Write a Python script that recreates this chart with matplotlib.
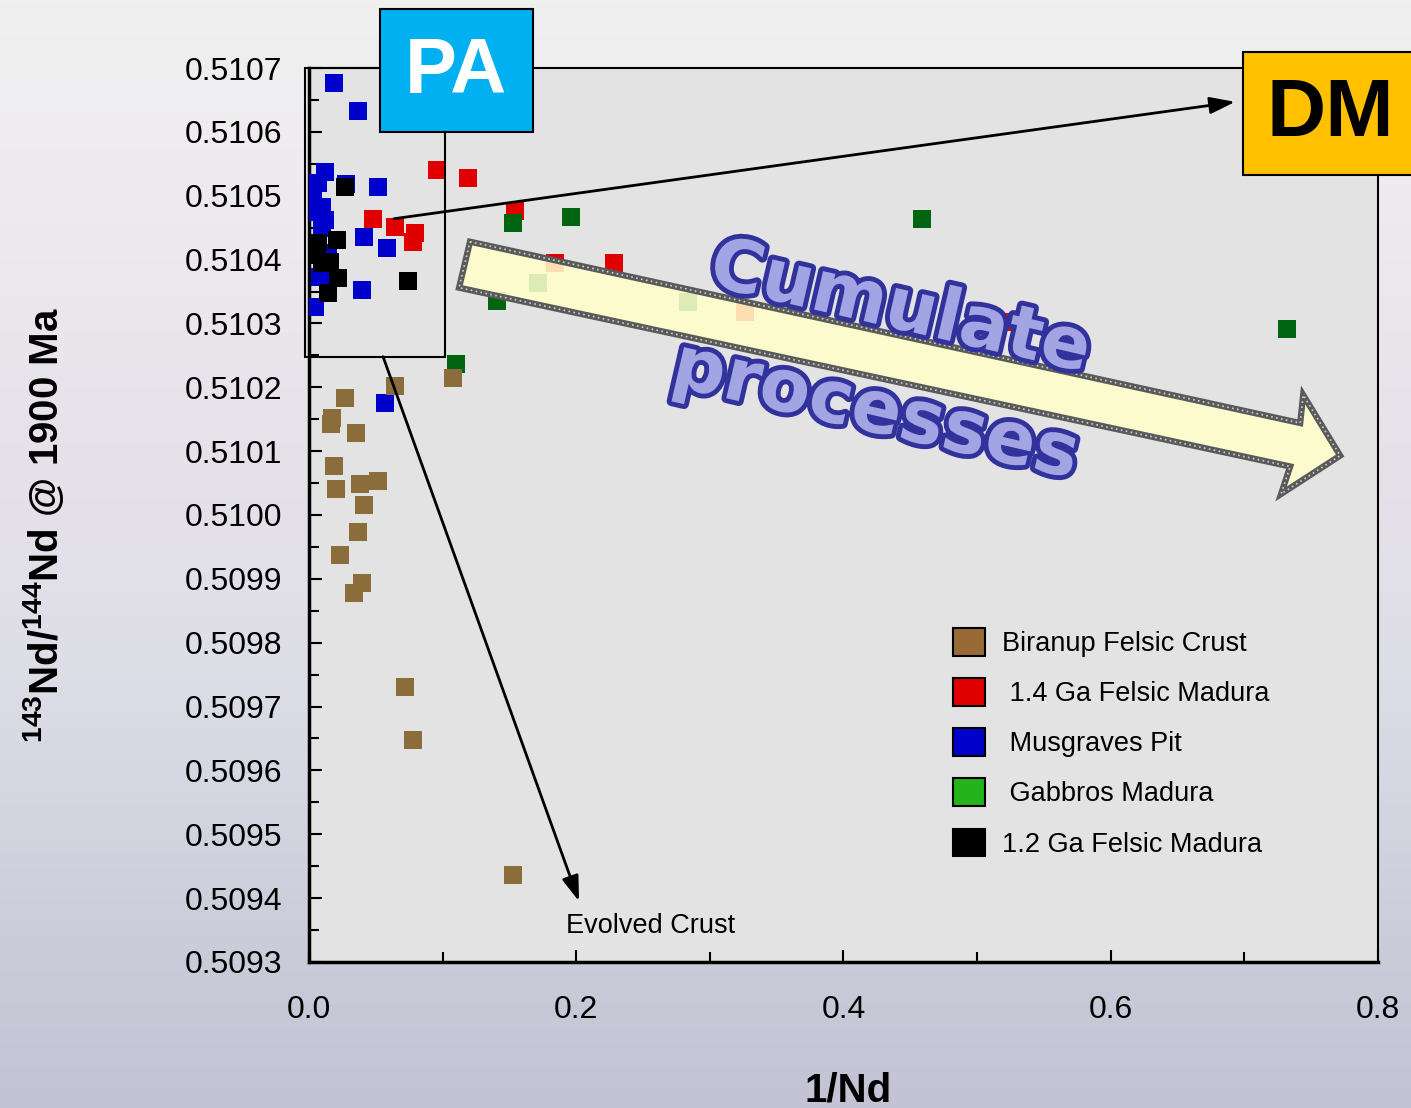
import numpy as np
import matplotlib
matplotlib.use('Agg')
import matplotlib.pyplot as plt
import matplotlib.patheffects as pe
from matplotlib.patches import Rectangle, Polygon, Patch, FancyArrowPatch
from matplotlib.ticker import MultipleLocator, FormatStrFormatter

plt.rcParams['font.family'] = ['Liberation Sans', 'DejaVu Sans']
plt.rcParams['mathtext.default'] = 'regular'

# 1/Nd and 143Nd/144Nd (1900 Ma) for each suite
biranup_x = [0.064, 0.108, 0.027, 0.017, 0.0165, 0.035, 0.019, 0.052, 0.038,
             0.020, 0.041, 0.037, 0.023, 0.040, 0.034, 0.072, 0.078, 0.153]
biranup_y = [0.510202, 0.510215, 0.510184, 0.510152, 0.510143, 0.510129,
             0.510076, 0.510054, 0.510049, 0.510041, 0.510016, 0.509974,
             0.509938, 0.509893, 0.509878, 0.509730, 0.509648, 0.509436]

madura14_x = [0.096, 0.119, 0.048, 0.064, 0.079, 0.078, 0.154, 0.184, 0.228,
              0.326, 0.519]
madura14_y = [0.510540, 0.510528, 0.510464, 0.510451, 0.510442, 0.510428,
              0.510476, 0.510395, 0.510395, 0.510318, 0.510302]

musgraves_x = [0.019, 0.037, 0.012, 0.007, 0.028, 0.052, 0.003, 0.010, 0.0045,
               0.012, 0.010, 0.041, 0.0045, 0.058, 0.014, 0.010, 0.008, 0.040,
               0.0045, 0.057]
musgraves_y = [0.510677, 0.510633, 0.510537, 0.510520, 0.510518, 0.510514,
               0.510497, 0.510482, 0.510475, 0.510462, 0.510450, 0.510436,
               0.510426, 0.510418, 0.510410, 0.510387, 0.510373, 0.510353,
               0.510326, 0.510176]

gabbro_x = [0.196, 0.153, 0.459, 0.141, 0.110, 0.732, 0.457, 0.171, 0.284]
gabbro_y = [0.510467, 0.510457, 0.510464, 0.510335, 0.510237, 0.510292,
            0.510296, 0.510364, 0.510334]

madura12_x = [0.027, 0.021, 0.007, 0.005, 0.010, 0.016, 0.022, 0.014, 0.074]
madura12_y = [0.510514, 0.510431, 0.510426, 0.510407, 0.510395, 0.510396,
              0.510371, 0.510348, 0.510367]

labels = ['Biranup Felsic Crust', ' 1.4 Ga Felsic Madura', ' Musgraves Pit',
          ' Gabbros Madura', '1.2 Ga Felsic Madura']
legend_colors = ['#976a36', '#e00000', '#0000cc', '#22b41a', '#000000']

fig = plt.figure(figsize=(14.11, 11.08), dpi=100)

# soft vertical background shading
bg = fig.add_axes([0, 0, 1, 1], zorder=-5)
stop_pos = [0.0, 0.2, 0.4, 0.6, 0.8, 1.0]
stop_rgb = np.array([[240, 240, 240], [237, 234, 238], [231, 226, 234],
                     [222, 222, 231], [206, 208, 221], [195, 195, 211]]) / 255
t = np.linspace(0, 1, 300)
grad = np.stack([np.interp(t, stop_pos, stop_rgb[:, k]) for k in range(3)], axis=-1)
bg.imshow(grad[:, None, :], aspect='auto', extent=[0, 1, 0, 1])
bg.axis('off')

ax = fig.add_axes([0.219, 0.1318, 0.7576, 0.8068])
ax.set_facecolor('#e3e3e3')
ax.set_xlim(0, 0.8)
ax.set_ylim(0.5093, 0.5107)

ms = 165
ax.scatter(musgraves_x, musgraves_y, s=ms, marker='s', color='#0000cc', lw=0, zorder=3)
ax.scatter(madura14_x, madura14_y, s=ms, marker='s', color='#e00000', lw=0, zorder=3)
ax.scatter(gabbro_x, gabbro_y, s=ms, marker='s', color='#006410', lw=0, zorder=3)
ax.scatter(biranup_x, biranup_y, s=ms, marker='s', color='#8b6c3b', lw=0, zorder=3)
ax.scatter(madura12_x, madura12_y, s=ms, marker='s', color='#000000', lw=0, zorder=3)

# axes styling
for side in ['left', 'bottom']:
    ax.spines[side].set_linewidth(2.5)
for side in ['top', 'right']:
    ax.spines[side].set_linewidth(1.5)
ax.xaxis.set_major_locator(MultipleLocator(0.2))
ax.xaxis.set_minor_locator(MultipleLocator(0.1))
ax.yaxis.set_major_locator(MultipleLocator(0.0001))
ax.yaxis.set_minor_locator(MultipleLocator(0.00005))
ax.xaxis.set_major_formatter(FormatStrFormatter('%.1f'))
ax.yaxis.set_major_formatter(FormatStrFormatter('%.4f'))
ax.tick_params(which='both', direction='in', width=1.5, labelsize=23)
ax.tick_params(which='major', length=9)
ax.tick_params(which='minor', length=7)
ax.tick_params(axis='x', pad=24)
ax.tick_params(axis='y', pad=19)

ax.set_xlabel('1/Nd', fontsize=29, fontweight='bold')
ax.xaxis.set_label_coords(0.504, -0.123)
ax.set_ylabel(r'$^{143}$Nd/$^{144}$Nd @ 1900 Ma', fontsize=29, fontweight='bold')
ax.yaxis.set_label_coords(-0.227, 0.489)

# primitive-mantle field outline
ax.add_patch(Rectangle((-0.003, 0.510248), 0.1048, 0.000452, fill=False,
                       ec='black', lw=1.5, clip_on=False, zorder=4))

# trend arrows
head = '-|>,head_length=0.9,head_width=0.3'
ax.add_patch(FancyArrowPatch((0.0636, 0.510464), (0.6931, 0.510647),
                             arrowstyle=head, mutation_scale=17, lw=2,
                             shrinkA=0, shrinkB=0, color='black', zorder=5))
ax.add_patch(FancyArrowPatch((0.0554, 0.510248), (0.2021, 0.509395),
                             arrowstyle=head, mutation_scale=17, lw=2,
                             shrinkA=0, shrinkB=0, color='black', zorder=5))
ax.text(0.1924, 0.5093556, 'Evolved Crust', fontsize=19.5, va='center', ha='left')

# block arrow for cumulate processes
arrow_xy = [(0.1205, 0.510428), (0.7418, 0.510144), (0.7440, 0.510188),
            (0.7717, 0.510093), (0.7275, 0.510033), (0.7343, 0.510076),
            (0.1123, 0.510356)]
ax.add_patch(Polygon(arrow_xy, closed=True, facecolor=(1, 1, 0.8, 0.88),
                     edgecolor='#5a5a5a', lw=4.5, zorder=4))
ax.add_patch(Polygon(arrow_xy, closed=True, fill=False, edgecolor='#cfcfc8',
                     lw=1.2, ls=(0, (1, 2)), zorder=4))

outline = [pe.withStroke(linewidth=7, foreground='#32329c')]
ax.text(0.4424, 0.510322, 'Cumulate', fontsize=52, fontweight='bold',
        family='DejaVu Sans', color='#a3a4e3', rotation=-13, rotation_mode='anchor',
        ha='center', va='center', path_effects=outline, zorder=6)
ax.text(0.4237, 0.510162, 'processes', fontsize=53, fontweight='bold',
        family='DejaVu Sans', color='#a3a4e3', rotation=-13, rotation_mode='anchor',
        ha='center', va='center', path_effects=outline, zorder=6)

handles = [Patch(facecolor=c, edgecolor='black', lw=1.5) for c in legend_colors]
ax.legend(handles, labels, loc='upper left', bbox_to_anchor=(0.6024, 0.3736),
          frameon=False, fontsize=19.5, handlelength=1.2, handleheight=1.2,
          handletextpad=0.6, labelspacing=0.78, borderpad=0, borderaxespad=0)

# end-member boxes
fig.add_artist(Rectangle((0.2693, 0.8809), 0.1084, 0.111, transform=fig.transFigure,
                         facecolor='#00b0f0', edgecolor='black', lw=1.5, zorder=7))
fig.text(0.3232, 0.935, 'PA', fontsize=56, fontweight='bold', color='white',
         ha='center', va='center', zorder=8)
fig.add_artist(Rectangle((0.881, 0.842), 0.13, 0.1111, transform=fig.transFigure,
                         facecolor='#ffc000', edgecolor='black', lw=1.5, zorder=7))
fig.text(0.9426, 0.8962, 'DM', fontsize=59, fontweight='bold', color='black',
         ha='center', va='center', zorder=8)

fig.savefig('out.png', dpi=100)
